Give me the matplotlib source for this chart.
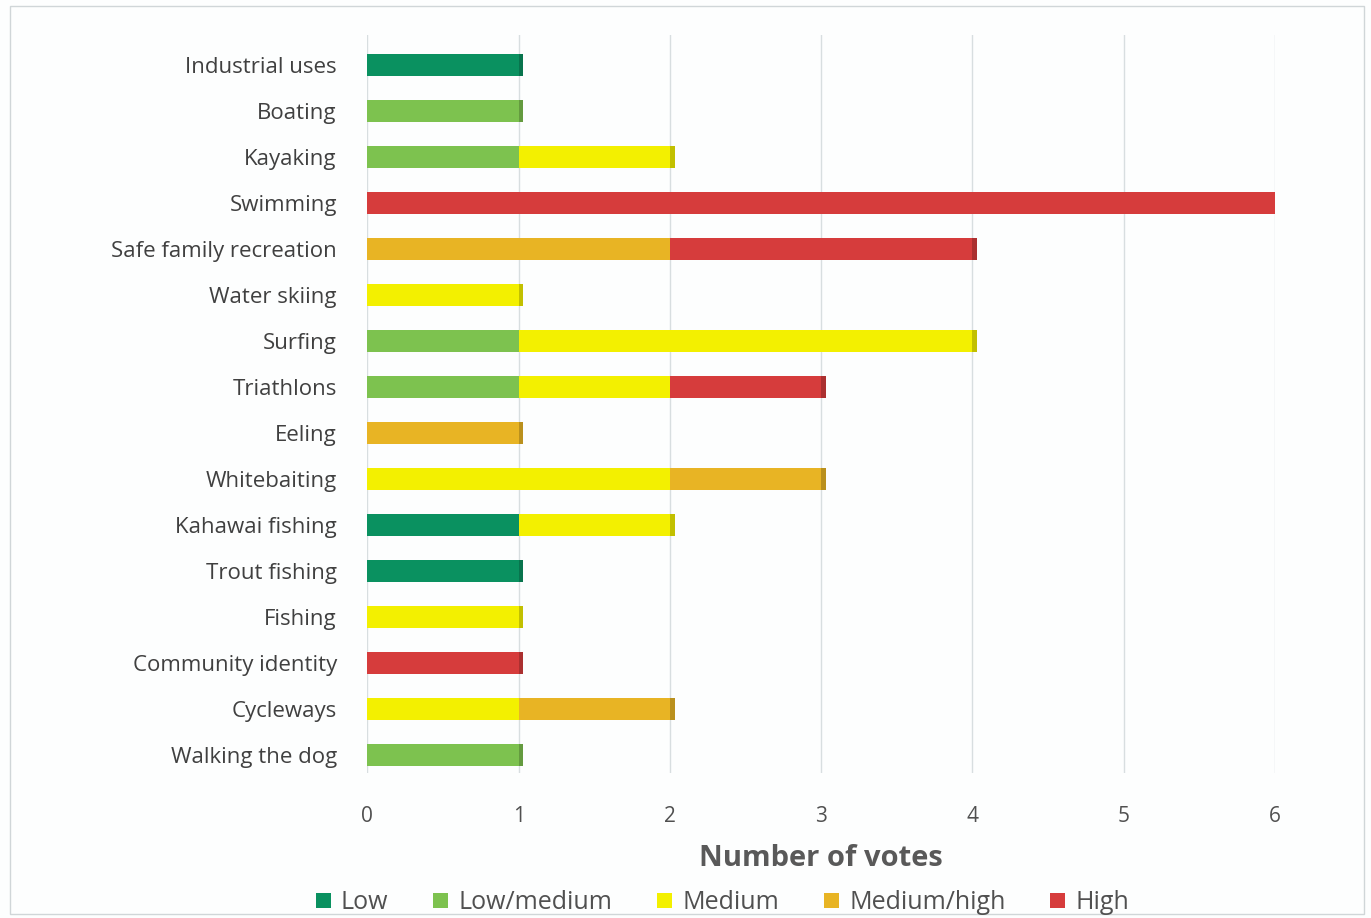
import matplotlib.pyplot as plt
import matplotlib.colors as mcolors
import numpy as np

plt.rcParams['font.family'] = ['Open Sans', 'DejaVu Sans']

activities = ["Industrial uses", "Boating", "Kayaking", "Swimming",
              "Safe family recreation", "Water skiing", "Surfing", "Triathlons",
              "Eeling", "Whitebaiting", "Kahawai fishing", "Trout fishing",
              "Fishing", "Community identity", "Cycleways", "Walking the dog"]

low        = [1, 0, 0, 0, 0, 0, 0, 0, 0, 0, 1, 1, 0, 0, 0, 0]
low_medium = [0, 1, 1, 0, 0, 0, 1, 1, 0, 0, 0, 0, 0, 0, 0, 1]
medium     = [0, 0, 1, 0, 0, 1, 3, 1, 0, 2, 1, 0, 1, 0, 1, 0]
med_high   = [0, 0, 0, 0, 2, 0, 0, 0, 1, 1, 0, 0, 0, 0, 1, 0]
high       = [0, 0, 0, 6, 2, 0, 0, 1, 0, 0, 0, 0, 0, 1, 0, 0]

levels = ["Low", "Low/medium", "Medium", "Medium/high", "High"]
colours = ["#0a9160", "#7dc24f", "#f3f000", "#e8b424", "#d63c3c"]

series = [low, low_medium, medium, med_high, high]
text_col = "#404040"

fig = plt.figure(figsize=(13.71, 9.18), dpi=100, facecolor="#fdfefe")
ax = fig.add_axes([0.268, 0.158, 0.662, 0.804])
ax.set_facecolor("#fdfefe")

y = np.arange(len(activities))
left = np.zeros(len(activities))
last_col = [None] * len(activities)
for vals, col, name in zip(series, colours, levels):
    vals = np.array(vals, dtype=float)
    ax.barh(y, vals, left=left, height=0.48, color=col, label=name,
            edgecolor="none", zorder=3)
    for i, v in enumerate(vals):
        if v > 0:
            last_col[i] = col
    left += vals

# darker end caps give the bars a slight block look
for i, total in enumerate(left):
    shade = np.array(mcolors.to_rgb(last_col[i])) * 0.8
    ax.barh(y[i], 0.03, left=total, height=0.48, color=shade, zorder=3)

ax.set_yticks(y)
ax.set_yticklabels(activities, fontsize=16, color=text_col)
ax.set_ylim(15.39, -0.65)

ax.set_xlim(0, 6)
ax.set_xticks(range(7))
ax.tick_params(axis="x", labelsize=15, colors="#505050", pad=24, length=0)
ax.tick_params(axis="y", length=0, pad=22)
ax.grid(axis="x", color="#d8dee0", linewidth=1, zorder=0)
for s in ax.spines.values():
    s.set_visible(False)

ax.set_xlabel("Number of votes", fontsize=21, fontweight="bold",
              color="#595959", labelpad=12)

fig.legend(loc="lower center", bbox_to_anchor=(0.527, -0.012), ncol=5,
           frameon=False, fontsize=18, handlelength=0.6, handleheight=0.6,
           handletextpad=0.4, columnspacing=1.8, labelcolor="#505050",
           borderpad=0.05)

fig.patches.append(plt.Rectangle((0.007, 0.004), 0.988, 0.99,
                                 transform=fig.transFigure, fill=False,
                                 edgecolor="#d0d6d8", linewidth=1))

fig.savefig("out.png", dpi=100, facecolor=fig.get_facecolor())
